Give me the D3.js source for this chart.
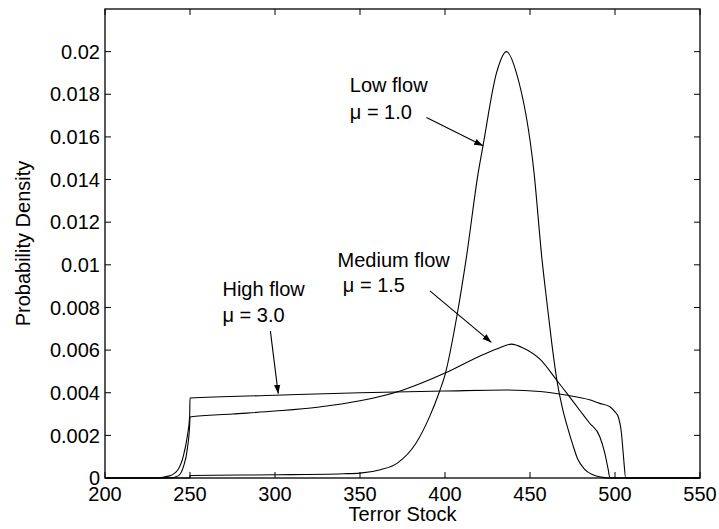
<!DOCTYPE html>
<html>
<head>
<meta charset="utf-8">
<script src="https://cdn.jsdelivr.net/npm/d3@7"></script>
<style>
  html, body { margin: 0; padding: 0; background: #fff; }
  svg { display: block; }
  text { font-family: "Liberation Sans", Arial, Helvetica, sans-serif; fill: #000; }
</style>
</head>
<body>
<svg id="chart" width="719" height="529"></svg>
<script>
// ---- data ----
const xTicks = [200, 250, 300, 350, 400, 450, 500, 550];
const yTicks = [0, 0.002, 0.004, 0.006, 0.008, 0.01, 0.012, 0.014, 0.016, 0.018, 0.02];
const yTickLabels = ["0", "0.002", "0.004", "0.006", "0.008", "0.01", "0.012", "0.014", "0.016", "0.018", "0.02"];

const lowX = [200, 240, 249.9, 250, 300, 340, 350, 362, 372, 383, 391, 396.5, 400, 407, 412.5, 419.5, 422.4, 430.3, 436.2, 442, 452.4, 457, 460, 463, 466, 469, 472, 475, 478, 482, 487, 492, 497, 550];
const lowY = [0, 0, 0, 0.00012, 0.00015, 0.0002, 0.00023, 0.00039, 0.0007, 0.00164, 0.00289, 0.004, 0.00484, 0.0076, 0.0103, 0.0143, 0.0156, 0.019, 0.02, 0.019, 0.0143, 0.0103, 0.0082, 0.0062, 0.0045, 0.0033, 0.0024, 0.0016, 0.0009, 0.00042, 0.00015, 0.00004, 0, 0];

const medX = [200, 238, 243, 246, 248.5, 249.8, 250, 275, 300, 325, 350, 375, 400, 420, 432, 439, 446, 456, 465.5, 472.4, 479, 485, 491, 494, 496, 497, 550];
const medY = [0, 0, 0.0001, 0.0005, 0.0014, 0.0025, 0.00286, 0.003, 0.00314, 0.00332, 0.00362, 0.00412, 0.00492, 0.0057, 0.0061, 0.00628, 0.0061, 0.00556, 0.00461, 0.0039, 0.0032, 0.00258, 0.00195, 0.00117, 0.0004, 0, 0];

const highX = [200, 230, 238, 243, 246, 248.5, 249.8, 250, 300, 350, 400, 436, 456, 471, 485, 491, 497, 500, 502, 503.8, 505, 506.3, 550];
const highY = [0, 0, 0.0001, 0.0004, 0.001, 0.002, 0.0029, 0.00375, 0.00388, 0.004, 0.00408, 0.00413, 0.00406, 0.00389, 0.00367, 0.0035, 0.00334, 0.0031, 0.00285, 0.0021, 0.001, 0, 0];

const labelNames = ["Low flow", "Medium flow", "High flow"];
const labelMus = ["\u03BC = 1.0", "\u03BC = 1.5", "\u03BC = 3.0"];
const labelX = [344.0, 336.8, 269.1];
const labelY = [0.01813, 0.00992, 0.00855];
const muX = [344.0, 339.9, 269.1];
const muY = [0.01683, 0.00872, 0.00733];
const arrowFromX = [389.1, 391.1, 297.3];
const arrowFromY = [0.01691, 0.00878, 0.00689];
const arrowToX = [422.4, 427.3, 301.9];
const arrowToY = [0.01558, 0.00636, 0.00395];

// ---- layout ----
const svg = d3.select("#chart");
const L = 105, R = 700, T = 9, B = 478;
const x = d3.scaleLinear().domain([200, 550]).range([L, R]);
const y = d3.scaleLinear().domain([0, 0.022]).range([B, T]);
const FS = 20;

svg.append("defs").append("marker")
  .attr("id", "ah").attr("viewBox", "0 0 10 10")
  .attr("refX", 10).attr("refY", 5)
  .attr("markerWidth", 9).attr("markerHeight", 9)
  .attr("markerUnits", "userSpaceOnUse")
  .attr("orient", "auto")
  .append("path").attr("d", "M0,1.5 L10,5 L0,8.5 Z").attr("fill", "#000");

// curves
const line = d3.line().x(d => x(d[0])).y(d => y(d[1])).curve(d3.curveMonotoneX);
[[lowX, lowY], [medX, medY], [highX, highY]].forEach(([xs, ys]) => {
  svg.append("path")
    .datum(xs.map((v, i) => [v, ys[i]]))
    .attr("d", line)
    .attr("fill", "none").attr("stroke", "#000").attr("stroke-width", 1.1);
});

// frame
svg.append("rect").attr("x", L).attr("y", T).attr("width", R - L).attr("height", B - T)
  .attr("fill", "none").attr("stroke", "#000").attr("stroke-width", 1.3);

// ticks (inward, on all sides)
const tl = 6;
const g = svg.append("g").attr("stroke", "#000").attr("stroke-width", 1);
xTicks.forEach(t => {
  g.append("line").attr("x1", x(t)).attr("x2", x(t)).attr("y1", B).attr("y2", B - tl);
  g.append("line").attr("x1", x(t)).attr("x2", x(t)).attr("y1", T).attr("y2", T + tl);
});
yTicks.forEach(t => {
  g.append("line").attr("x1", L).attr("x2", L + tl).attr("y1", y(t)).attr("y2", y(t));
  g.append("line").attr("x1", R).attr("x2", R - tl).attr("y1", y(t)).attr("y2", y(t));
});

// tick labels
xTicks.forEach(t => {
  svg.append("text").attr("x", x(t)).attr("y", B + 23)
    .attr("text-anchor", "middle").attr("font-size", FS).text(t);
});
yTicks.forEach((t, i) => {
  svg.append("text").attr("x", L - 5).attr("y", y(t) + 7.2)
    .attr("text-anchor", "end").attr("font-size", FS).text(yTickLabels[i]);
});

// axis titles
svg.append("text").attr("x", (L + R) / 2).attr("y", 521)
  .attr("text-anchor", "middle").attr("font-size", FS).text("Terror Stock");
svg.append("text").attr("transform", `translate(29.5,${(T + B) / 2}) rotate(-90)`)
  .attr("text-anchor", "middle").attr("font-size", FS).text("Probability Density");

// annotations
labelNames.forEach((n, i) => {
  svg.append("text").attr("x", x(labelX[i])).attr("y", y(labelY[i]))
    .attr("font-size", FS).text(n);
  svg.append("text").attr("x", x(muX[i])).attr("y", y(muY[i]))
    .attr("font-size", FS).text(labelMus[i]);
  svg.append("line")
    .attr("x1", x(arrowFromX[i])).attr("y1", y(arrowFromY[i]))
    .attr("x2", x(arrowToX[i])).attr("y2", y(arrowToY[i]))
    .attr("stroke", "#000").attr("stroke-width", 1.1)
    .attr("marker-end", "url(#ah)");
});
</script>
</body>
</html>
